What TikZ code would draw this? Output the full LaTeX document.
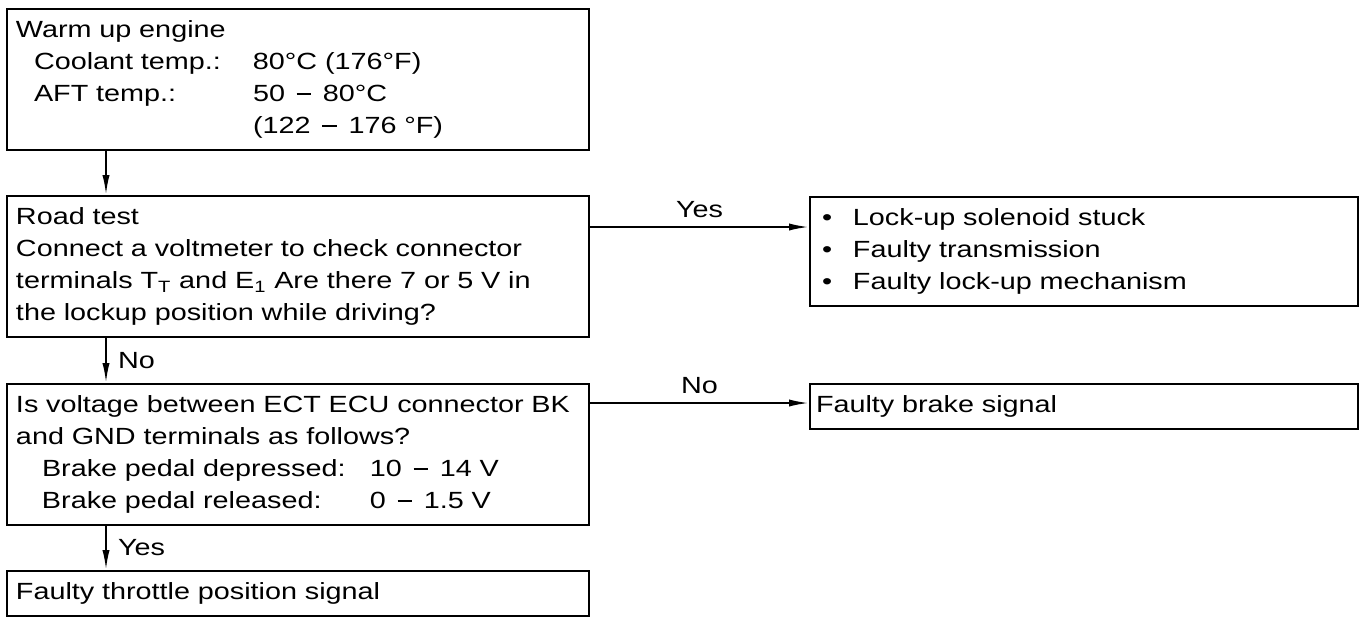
\documentclass[tikz,border=0pt]{standalone}
\usepackage{fontspec}
\setmainfont[FakeStretch=1.23]{Liberation Sans}
\usetikzlibrary{arrows,arrows.meta}
\usetikzlibrary{calc}
\tikzset{>={Latex[length=10pt,width=3.6pt]}}
\newcommand{\flowfont}{\fontsize{11.7}{16}\selectfont}
\newcommand{\rng}{\,\rule[0.3em]{0.62em}{0.075em}\,}
\tikzstyle{box} = [draw, line width=1pt, rectangle, anchor=north west,
                   align=left, inner ysep=0pt, inner xsep=4.5pt, font=\flowfont]
\tikzstyle{flow} = [->, line width=1pt]
\tikzstyle{lbl} = [inner sep=0pt, font=\flowfont]

\begin{document}
\begin{tikzpicture}[x=0.5pt,y=-0.5pt]
  \useasboundingbox (0,0) rectangle (1364,617);
  \def\TW{282pt} % text width, left column
  \def\RW{262pt} % text width, right column
  
  % LEFT COLUMN
  \node[box, text width=\TW, minimum height=70.5pt] (warm) at (6,8) {%
    Warm up engine\\
    \hspace*{9pt}\makebox[109.5pt][l]{Coolant temp.:}80°C (176°F)\\
    \hspace*{9pt}\makebox[109.5pt][l]{AFT temp.:}50 \rng{} 80°C\\
    \hspace*{9pt}\makebox[109.5pt][l]{}(122 \rng{} 176 °F)};
  \node[box, text width=\TW, minimum height=70.5pt] (road) at (6,195) {%
    Road test\\
    Connect a voltmeter to check connector\\
    terminals T\textsubscript{T} and E\textsubscript{1} Are there 7 or 5 V in\\
    the lockup position while driving?};
  \node[box, text width=\TW, minimum height=70.5pt] (check) at (6,383) {%
    Is voltage between ECT ECU connector BK\\
    and GND terminals as follows?\\
    \hspace*{13pt}\makebox[164pt][l]{Brake pedal depressed:}10 \rng{} 14 V\\
    \hspace*{13pt}\makebox[164pt][l]{Brake pedal released:}0 \rng{} 1.5 V};
  \node[box, text width=\TW, minimum height=22.5pt] (throttle) at (6,570) {%
    Faulty throttle position signal};
  
  % RIGHT COLUMN
  \node[box, text width=\RW, inner xsep=6pt, minimum height=54.5pt] (lock) at (809,196) {%
    \makebox[15.5pt][l]{•}Lock-up solenoid stuck\\
    \makebox[15.5pt][l]{•}Faulty transmission\\
    \makebox[15.5pt][l]{•}Faulty lock-up mechanism};
  \node[box, text width=268pt, inner xsep=3pt, minimum height=22.5pt] (brake) at (809,383) {%
    Faulty brake signal};
  
  % CONNECTORS
  \draw[flow] ([xshift=50pt]warm.south west) -- ([xshift=50pt]warm.south west |- road.north);
  \draw[flow] ([xshift=50pt]road.south west) -- ([xshift=50pt]road.south west |- check.north)
    node[lbl, midway, right=5.5pt] {No};
  \draw[flow] ([xshift=50pt]check.south west) -- ([xshift=50pt]check.south west |- throttle.north)
    node[lbl, midway, right=5.5pt] {Yes};
  \draw[flow] ([yshift=-16pt]road.north east) -- ([yshift=-16pt]road.north east -| lock.west)
    node[lbl, midway, above=4pt] {Yes};
  \draw[flow] ([yshift=-10pt]check.north east) -- ([yshift=-10pt]check.north east -| brake.west)
    node[lbl, midway, above=4pt] {No};
\end{tikzpicture}
\end{document}
